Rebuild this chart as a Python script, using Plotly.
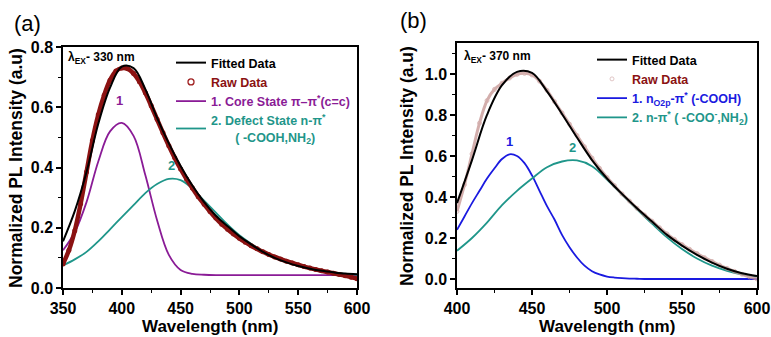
import plotly.graph_objects as go

FONT = "Liberation Sans, Arial, sans-serif"

# ---------------- Panel (a) data ----------------
wl_a10 = [350, 360, 370, 380, 390, 400, 410, 420, 430, 440, 450, 460, 470, 480, 490,
          500, 510, 520, 530, 540, 550, 560, 570, 580, 590, 600]
fit_a = [0.155, 0.255, 0.385, 0.545, 0.665, 0.735, 0.73, 0.66, 0.565, 0.48, 0.405, 0.34,
         0.285, 0.24, 0.205, 0.172, 0.145, 0.12, 0.10, 0.085, 0.073, 0.064, 0.057, 0.052,
         0.048, 0.046]
core_a = [0.125, 0.185, 0.285, 0.42, 0.52, 0.548, 0.505, 0.375, 0.225, 0.11, 0.06, 0.047,
          0.044, 0.043, 0.043, 0.043, 0.043, 0.043, 0.043, 0.043, 0.043, 0.043, 0.043,
          0.043, 0.043, 0.043]
defect_a = [0.075, 0.095, 0.12, 0.155, 0.195, 0.235, 0.275, 0.315, 0.345, 0.362, 0.358,
            0.33, 0.29, 0.25, 0.21, 0.175, 0.147, 0.123, 0.103, 0.088, 0.075, 0.065, 0.057,
            0.051, 0.047, 0.044]
wl_a5 = list(range(350, 601, 5))
raw_a = [0.08, 0.125, 0.19, 0.28, 0.385, 0.49, 0.575, 0.64, 0.69, 0.72, 0.73, 0.728, 0.712,
         0.685, 0.648, 0.605, 0.56, 0.515, 0.472, 0.432, 0.395, 0.362, 0.332, 0.303, 0.278,
         0.254, 0.232, 0.212, 0.195, 0.179, 0.165, 0.152, 0.14, 0.13, 0.12, 0.111, 0.103,
         0.096, 0.089, 0.083, 0.077, 0.071, 0.066, 0.061, 0.057, 0.053, 0.049, 0.045, 0.041,
         0.036, 0.031]

# ---------------- Panel (b) data ----------------
wl_b10 = [400, 410, 420, 430, 440, 450, 460, 470, 480, 490, 500, 510, 520, 530, 540, 550,
          560, 570, 580, 590, 600]
fit_b = [0.37, 0.58, 0.80, 0.945, 1.01, 1.005, 0.915, 0.805, 0.69, 0.58, 0.49, 0.415, 0.345,
         0.28, 0.215, 0.163, 0.118, 0.08, 0.05, 0.028, 0.015]
comp2_b = [0.138, 0.2, 0.275, 0.36, 0.43, 0.49, 0.545, 0.573, 0.578, 0.55, 0.485, 0.412,
           0.34, 0.27, 0.203, 0.146, 0.1, 0.065, 0.04, 0.022, 0.012]
wl_b5 = list(range(400, 601, 5))
comp1_b = [0.24, 0.305, 0.37, 0.43, 0.49, 0.54, 0.585, 0.608, 0.6, 0.565, 0.505, 0.43, 0.355,
           0.29, 0.215, 0.155, 0.105, 0.065, 0.038, 0.022, 0.012, 0.007, 0.004, 0.002, 0.001,
           0.0, 0.0, 0.0, 0.0, 0.0, 0.0, 0.0, 0.0, 0.0, 0.0, 0.0, 0.0, 0.0, 0.0, 0.0, 0.0]
raw_b = [0.33, 0.46, 0.61, 0.76, 0.87, 0.925, 0.955, 0.98, 0.998, 1.003, 0.995, 0.965, 0.92,
         0.865, 0.81, 0.755, 0.70, 0.645, 0.59, 0.54, 0.495, 0.455, 0.415, 0.38, 0.345, 0.312,
         0.282, 0.25, 0.22, 0.193, 0.168, 0.145, 0.124, 0.104, 0.086, 0.068, 0.052, 0.037,
         0.023, 0.01, 0.0]

C_PURPLE = "#8a1b96"
C_TEAL = "#1f968a"
C_BLUE = "#1a1ae0"
C_RED = "#8b1212"
C_PINK = "#c99a98"

fig = go.Figure()

# ---- panel (a) traces ----
fig.add_trace(go.Scatter(x=wl_a10, y=core_a, mode="lines", line=dict(color=C_PURPLE, width=1.8, shape="spline"),
                         name=f'<span style="color:{C_PURPLE}">1. Core State π–π<sup>*</sup>(c=c)</span>',
                         legendrank=3, xaxis="x", yaxis="y", legend="legend"))
fig.add_trace(go.Scatter(x=wl_a10, y=defect_a, mode="lines", line=dict(color=C_TEAL, width=1.8, shape="spline"),
                         name=f'<span style="color:{C_TEAL}">2. Defect State n-π<sup>*</sup><br>&nbsp;&nbsp;&nbsp;&nbsp;&nbsp;&nbsp;&nbsp;( -COOH,NH<sub>2</sub>)</span>',
                         legendrank=4, xaxis="x", yaxis="y", legend="legend"))
fig.add_trace(go.Scatter(x=wl_a5, y=raw_a, mode="lines+markers", line=dict(color=C_RED, width=4.5, shape="spline"),
                         marker=dict(symbol="circle", size=5, color=C_RED),
                         showlegend=False, xaxis="x", yaxis="y"))
fig.add_trace(go.Scatter(x=[None], y=[None], mode="markers",
                         marker=dict(symbol="circle-open", size=6, color="#a02020", line=dict(width=1.3)),
                         name=f'<span style="color:{C_RED}">Raw Data</span>',
                         legendrank=2, xaxis="x", yaxis="y", legend="legend"))
fig.add_trace(go.Scatter(x=wl_a10, y=fit_a, mode="lines", line=dict(color="black", width=2, shape="spline"),
                         name="Fitted Data", legendrank=1, xaxis="x", yaxis="y", legend="legend"))

# ---- panel (b) traces ----
fig.add_trace(go.Scatter(x=wl_b5, y=comp1_b, mode="lines", line=dict(color=C_BLUE, width=1.8, shape="spline"),
                         name=f'<span style="color:{C_BLUE}">1. n<sub>O2p</sub>-π<sup>*</sup> (-COOH)</span>',
                         legendrank=3, xaxis="x2", yaxis="y2", legend="legend2"))
fig.add_trace(go.Scatter(x=wl_b10, y=comp2_b, mode="lines", line=dict(color=C_TEAL, width=1.8, shape="spline"),
                         name=f'<span style="color:{C_TEAL}">2. n-π<sup>*</sup> ( -COO<sup>-</sup>,NH<sub>2</sub>)</span>',
                         legendrank=4, xaxis="x2", yaxis="y2", legend="legend2"))
fig.add_trace(go.Scatter(x=wl_b5, y=raw_b, mode="lines+markers", line=dict(color=C_PINK, width=3, shape="spline"),
                         marker=dict(symbol="circle-open", size=4, color=C_PINK, line=dict(width=0.8)),
                         opacity=0.8, showlegend=False, xaxis="x2", yaxis="y2"))
fig.add_trace(go.Scatter(x=[None], y=[None], mode="markers",
                         marker=dict(symbol="circle-open", size=4, color="#d8b8b8", line=dict(width=0.8)),
                         name=f'<span style="color:{C_RED}">Raw Data</span>',
                         legendrank=2, xaxis="x2", yaxis="y2", legend="legend2"))
fig.add_trace(go.Scatter(x=wl_b10, y=fit_b, mode="lines", line=dict(color="black", width=2, shape="spline"),
                         name="Fitted Data", legendrank=1, xaxis="x2", yaxis="y2", legend="legend2"))

W, H = 771, 337
def px(x):
    return x / W
def py(y):
    return 1 - y / H

axis_common = dict(showline=True, linecolor="black", linewidth=1.5, mirror=True,
                   ticks="outside", ticklen=5, tickwidth=1.5, tickcolor="black",
                   showgrid=False, zeroline=False, automargin=False,
                   tickfont=dict(family=FONT, size=16, color="black", weight="bold"),
                   minor=dict(ticks="outside", ticklen=3, tickwidth=1.2, tickcolor="black", showgrid=False))

fig.update_layout(
    width=W, height=H, margin=dict(l=0, r=0, t=0, b=0),
    paper_bgcolor="white", plot_bgcolor="white",
    showlegend=True,
    xaxis=dict(domain=[px(63), px(357)], range=[350, 600], dtick=50, tick0=350,
               minor_dtick=25, anchor="y", **axis_common),
    yaxis=dict(domain=[py(288), py(47)], range=[0, 0.8], dtick=0.2, tick0=0,
               minor_dtick=0.1, tickformat=".1f", anchor="x", **axis_common),
    xaxis2=dict(domain=[px(457), px(757)], range=[400, 600], dtick=50, tick0=400,
                minor_dtick=25, anchor="y2", **axis_common),
    yaxis2=dict(domain=[py(288), py(43)], range=[-0.044, 1.151], dtick=0.2, tick0=0,
                minor_dtick=0.1, tickformat=".1f", anchor="x2", **axis_common),
    legend=dict(x=px(171), y=py(48), xanchor="left", yanchor="top", bgcolor="rgba(0,0,0,0)",
                font=dict(family=FONT, size=12.5, color="black", weight="bold"),
                traceorder="normal", itemwidth=30, tracegroupgap=0),
    legend2=dict(x=px(592), y=py(45), xanchor="left", yanchor="top", bgcolor="rgba(0,0,0,0)",
                 font=dict(family=FONT, size=12.5, color="black", weight="bold"),
                 traceorder="normal", itemwidth=30, tracegroupgap=0),
)

ax_font = dict(family=FONT, size=17, color="black", weight="bold")
ay_font = dict(family=FONT, size=17.5, color="black", weight="bold")
annotations = [
    dict(text="(a)", x=px(12), y=py(23), xref="paper", yref="paper", xanchor="left", yanchor="middle",
         showarrow=False, font=dict(family=FONT, size=22, color="black")),
    dict(text="(b)", x=px(398), y=py(20), xref="paper", yref="paper", xanchor="left", yanchor="middle",
         showarrow=False, font=dict(family=FONT, size=22, color="black")),
    dict(text="Wavelength (nm)", x=px(210), y=py(326), xref="paper", yref="paper",
         xanchor="center", yanchor="middle", showarrow=False, font=ax_font),
    dict(text="Wavelength (nm)", x=px(607), y=py(326), xref="paper", yref="paper",
         xanchor="center", yanchor="middle", showarrow=False, font=ax_font),
    dict(text="Normalized PL Intensity (a.u)", x=px(16), y=py(168), xref="paper", yref="paper",
         xanchor="center", yanchor="middle", textangle=-90, showarrow=False, font=ay_font),
    dict(text="Normalized PL Intensity (a.u)", x=px(407), y=py(166), xref="paper", yref="paper",
         xanchor="center", yanchor="middle", textangle=-90, showarrow=False, font=ay_font),
    dict(text="λ<sub>EX</sub>- 330 nm", x=px(66), y=py(58), xref="paper", yref="paper",
         xanchor="left", yanchor="middle", showarrow=False,
         font=dict(family=FONT, size=12, color="black", weight="bold")),
    dict(text="λ<sub>EX</sub>- 370 nm", x=px(462), y=py(57), xref="paper", yref="paper",
         xanchor="left", yanchor="middle", showarrow=False,
         font=dict(family=FONT, size=12, color="black", weight="bold")),
    dict(text="1", x=398, y=0.59, xref="x", yref="y", showarrow=False, yanchor="bottom",
         font=dict(family=FONT, size=13, color=C_PURPLE, weight="bold")),
    dict(text="2", x=442, y=0.375, xref="x", yref="y", showarrow=False, yanchor="bottom",
         font=dict(family=FONT, size=13, color=C_TEAL, weight="bold")),
    dict(text="1", x=435, y=0.625, xref="x2", yref="y2", showarrow=False, yanchor="bottom",
         font=dict(family=FONT, size=13, color=C_BLUE, weight="bold")),
    dict(text="2", x=477, y=0.595, xref="x2", yref="y2", showarrow=False, yanchor="bottom",
         font=dict(family=FONT, size=13, color=C_TEAL, weight="bold")),
]
fig.update_layout(annotations=annotations)

fig.write_html("out.html")
